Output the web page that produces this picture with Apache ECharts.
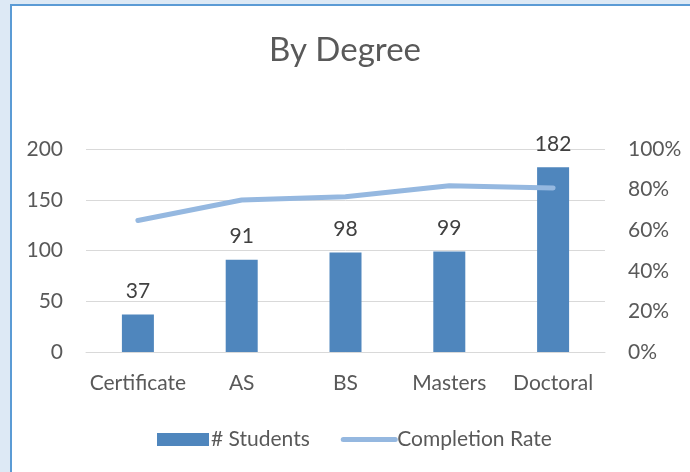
<!DOCTYPE html>
<html>
<head>
<meta charset="utf-8">
<script src="https://cdn.jsdelivr.net/npm/echarts@6/dist/echarts.min.js"></script>
<style>
html,body{margin:0;padding:0;background:#dde9f5;}
#chart{width:690px;height:472px;}
</style>
</head>
<body>
<div id="chart"></div>
<script>
const categories = ['Certificate', 'AS', 'BS', 'Masters', 'Doctoral'];
const students = [37, 91, 98, 99, 182];
const completionRate = [0.648, 0.749, 0.765, 0.819, 0.808];
const leftTicks = [0, 50, 100, 150, 200];
const rightTicks = [0, 0.2, 0.4, 0.6, 0.8, 1.0];

const FONT = 'Lato';
const FS = 21;
const chart = echarts.init(document.getElementById('chart'));
chart.setOption({
  backgroundColor: '#dde9f5',
  animation: false,
  textStyle: { fontFamily: FONT },
  graphic: [{
    type: 'rect', z: -10, silent: true,
    shape: { x: 11, y: 5, width: 700, height: 500 },
    style: { fill: '#ffffff', stroke: '#5b9bd5', lineWidth: 2 }
  }],
  title: {
    text: 'By Degree',
    left: 'center', top: 29,
    textStyle: { fontFamily: FONT, fontSize: 33, fontWeight: 'normal', color: '#595959' }
  },
  legend: {
    left: 152, top: 424,
    itemGap: 31,
    itemWidth: 52, itemHeight: 13,
    textStyle: { fontFamily: FONT, fontSize: FS, color: '#595959', padding: [0, 0, 0, -3] },
    data: [
      { name: '# Students', icon: 'rect' },
      { name: 'Completion Rate', itemStyle: { opacity: 0 },
        lineStyle: { width: 5, cap: 'round', color: '#95b8e0' } }
    ]
  },
  grid: { left: 86, right: 85, top: 149, bottom: 120, containLabel: false },
  xAxis: {
    type: 'category',
    data: categories,
    axisLine: { show: true, lineStyle: { color: '#d9d9d9', width: 1 } },
    axisTick: { show: false },
    axisLabel: { interval: 0, fontFamily: FONT, fontSize: FS, color: '#595959', margin: 21 }
  },
  yAxis: [{
    type: 'value', min: leftTicks[0], max: leftTicks[leftTicks.length - 1], interval: leftTicks[1] - leftTicks[0],
    axisLine: { show: false }, axisTick: { show: false },
    splitLine: { lineStyle: { color: '#d9d9d9', width: 1 } },
    axisLabel: { fontFamily: FONT, fontSize: FS, color: '#595959', margin: 23 }
  }, {
    type: 'value', min: rightTicks[0], max: rightTicks[rightTicks.length - 1], interval: 0.2,
    axisLine: { show: false }, axisTick: { show: false },
    splitLine: { show: false },
    axisLabel: { fontFamily: FONT, fontSize: FS, color: '#595959', margin: 23,
      formatter: v => Math.round(v * 100) + '%' }
  }],
  series: [{
    name: '# Students', type: 'bar', data: students, barWidth: 32,
    itemStyle: { color: '#4f86bd' },
    label: { show: true, position: 'top', distance: 13, fontFamily: FONT, fontSize: FS, color: '#404040' }
  }, {
    name: 'Completion Rate', type: 'line', yAxisIndex: 1, data: completionRate,
    symbol: 'none',
    lineStyle: { color: '#95b8e0', width: 5, cap: 'round', join: 'round' },
    itemStyle: { color: '#95b8e0' }
  }]
});
</script>
</body>
</html>
